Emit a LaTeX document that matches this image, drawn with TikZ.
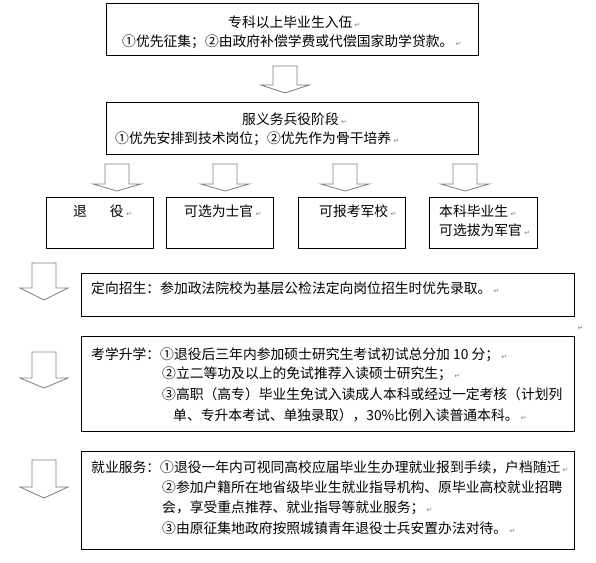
\documentclass[tikz,border=0pt]{standalone}
\usepackage{fontspec}
\setmainfont{Noto Sans CJK SC}
\newfontfamily\retfont{DejaVu Sans}
\usetikzlibrary{positioning}

% paragraph mark after a line
\newcommand{\ret}{\,{\retfont\fontsize{7}{7}\selectfont\color{gray}↵}}
% hollow block arrow pointing down: centre x, top, head top, tip
\newcommand{\downblock}[4]{%
  \draw[blockarrow] (#1-12,#2) -- (#1+12,#2) -- (#1+12,#3) -- (#1+24,#3)
    -- (#1,#4) -- (#1-24,#3) -- (#1-12,#3) -- cycle;}

\tikzset{
  box/.style={draw, line width=0.8pt, inner sep=0pt},
  txt/.style={anchor=base west, inner sep=0pt, font=\fontsize{13.8}{14}\selectfont},
  blockarrow/.style={draw=gray, line width=0.8pt, fill=white, line join=miter},
}

\begin{document}
\begin{tikzpicture}[x=1pt, y=-1pt]
    \fill[white] (0,0) rectangle (596,562);
    \useasboundingbox (0,0) rectangle (596,562);

    % Enlistment
    \node[box, minimum width=372pt, minimum height=52pt] (enlist) at (292,29) {};
    \node[txt] (enlist-l1) at (228,27) {专科以上毕业生入伍\ret};
    \node[txt] (enlist-l2) at (122,46) {①优先征集；②由政府补偿学费或代偿国家助学贷款。\ret};

    \downblock{285}{66}{85}{93}

    % Compulsory service
    \node[box, minimum width=372pt, minimum height=52pt] (service) at (292,128) {};
    \node[txt] (service-l1) at (242,124) {服义务兵役阶段\ret};
    \node[txt] (service-l2) at (115,143) {①优先安排到技术岗位；②优先作为骨干培养\ret};

    \foreach \cx in {117,225,345,465} {
        \downblock{\cx}{164}{184}{191}
    }

    % Four options
    \node[box, minimum width=107pt, minimum height=51pt] (retire) at (99.5,222.5) {};
    \node[box, minimum width=107pt, minimum height=51pt] (sergeant) at (219.5,222.5) {};
    \node[box, minimum width=107pt, minimum height=51pt] (academy) at (351.5,222.5) {};
    \node[box, minimum width=108pt, minimum height=51pt] (officer) at (483,222.5) {};
    \node[txt] (retire-t) at (73,216) {退\hspace{23pt}役\ret};
    \node[txt] (sergeant-t) at (184,216) {可选为士官\ret};
    \node[txt] (academy-t) at (319,216) {可报考军校\ret};
    \node[txt] (officer-t1) at (439,216) {本科毕业生\ret};
    \node[txt] (officer-t2) at (439,235) {可选拔为军官\ret};

    % After discharge
    \downblock{44}{263}{288}{300}
    \downblock{44}{352}{378}{388}
    \downblock{44}{460}{487}{498}

    \node[box, minimum width=493pt, minimum height=43pt] (directed) at (327.5,294.5) {};
    \node[txt] (directed-t) at (91,293) {定向招生：参加政法院校为基层公检法定向岗位招生时优先录取。\ret};
    \node[txt] (gap-ret) at (575,330) {\ret};

    \node[box, minimum width=493pt, minimum height=95pt] (study) at (327.5,383.5) {};
    \node[txt] (study-l1) at (91,359) {考学升学：①退役后三年内参加硕士研究生考试初试总分加 10 分；\ret};
    \node[txt] (study-l2) at (162,378) {②立二等功及以上的免试推荐入读硕士研究生；\ret};
    \node[txt] (study-l3) at (162,399) {③高职（高专）毕业生免试入读成人本科或经过一定考核（计划列};
    \node[txt] (study-l4) at (173,420) {单、专升本考试、单独录取），30\%比例入读普通本科。\ret};

    \node[box, minimum width=493pt, minimum height=98pt] (employ) at (327.5,500) {};
    \node[txt] (employ-l1) at (91,472) {就业服务：①退役一年内可视同高校应届毕业生办理就业报到手续，户档随迁\ret};
    \node[txt] (employ-l2) at (162,492) {②参加户籍所在地省级毕业生就业指导机构、原毕业高校就业招聘};
    \node[txt] (employ-l3) at (162,512) {会，享受重点推荐、就业指导等就业服务；\ret};
    \node[txt] (employ-l4) at (162,533) {③由原征集地政府按照城镇青年退役士兵安置办法对待。\ret};
\end{tikzpicture}
\end{document}
